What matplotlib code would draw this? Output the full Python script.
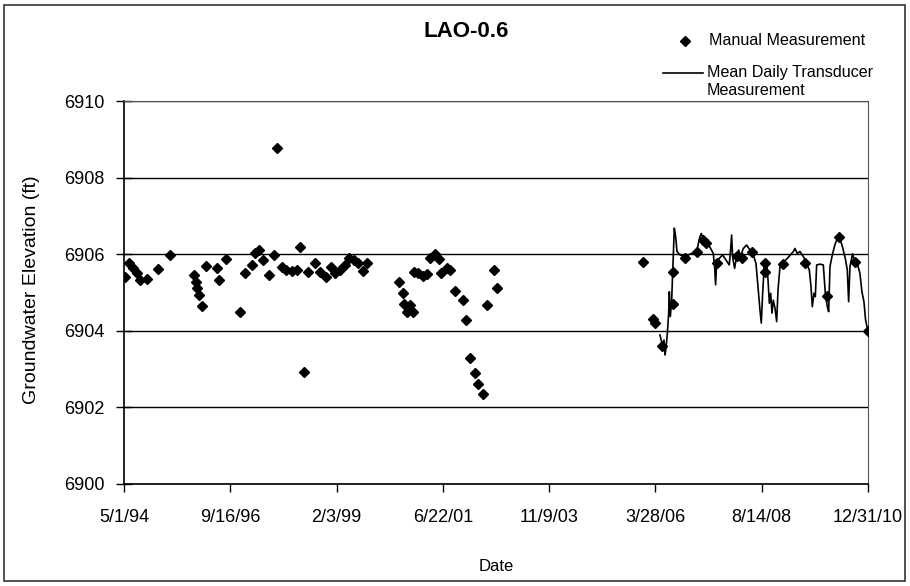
import matplotlib
matplotlib.use('Agg')
import matplotlib.pyplot as plt
from matplotlib.lines import Line2D
from matplotlib.patches import Rectangle
import pandas as pd

# manual measurements (date, groundwater elevation in ft)
manual_dates = [
    '1994-05-08', '1994-06-13', '1994-07-16', '1994-08-12', '1994-09-09', '1994-11-02',
    '1995-01-30', '1995-05-12', '1995-11-24', '1995-12-10', '1995-12-20', '1996-01-01',
    '1996-01-27', '1996-03-03', '1996-06-03', '1996-06-17', '1996-08-12', '1996-12-09',
    '1997-01-15', '1997-03-10', '1997-04-06', '1997-05-11', '1997-06-13', '1997-07-31',
    '1997-09-08', '1997-09-30', '1997-11-10', '1997-12-20', '1998-02-01', '1998-03-14',
    '1998-04-09', '1998-05-12', '1998-06-17', '1998-08-11', '1998-09-21', '1998-11-08',
    '1998-12-16', '1999-01-21', '1999-03-03', '1999-04-12', '1999-05-18', '1999-06-25',
    '1999-07-30', '1999-09-09', '1999-10-11',
    '2000-07-01', '2000-07-28', '2000-08-08', '2000-08-30', '2000-09-26', '2000-10-23',
    '2000-10-29', '2000-12-03', '2001-01-08', '2001-02-14', '2001-03-08', '2001-04-18',
    '2001-05-23', '2001-06-11', '2001-07-22', '2001-08-18', '2001-09-28', '2001-12-05',
    '2002-01-01', '2002-02-03', '2002-03-11', '2002-04-07', '2002-05-13', '2002-06-20',
    '2002-08-14', '2002-09-05',
    '2005-12-16', '2006-03-25', '2006-03-08', '2006-05-18', '2006-08-15', '2006-08-21',
    '2006-11-25', '2007-02-28', '2007-04-17', '2007-05-19', '2007-08-14', '2008-01-22',
    '2008-03-03', '2008-05-23', '2008-09-09', '2008-09-10', '2009-02-06', '2009-08-04',
    '2010-01-27', '2010-05-09', '2010-09-15', '2010-12-31',
]
manual_elev = [
    6905.40, 6905.78, 6905.63, 6905.50, 6905.33, 6905.35,
    6905.61, 6905.98, 6905.46, 6905.28, 6905.11, 6904.93,
    6904.65, 6905.69, 6905.63, 6905.33, 6905.87, 6904.50,
    6905.50, 6905.72, 6906.02, 6906.11, 6905.85, 6905.46,
    6905.98, 6908.78, 6905.67, 6905.59, 6905.57, 6905.59,
    6906.20, 6902.93, 6905.54, 6905.76, 6905.54, 6905.41,
    6905.67, 6905.50, 6905.59, 6905.72, 6905.89, 6905.85,
    6905.76, 6905.57, 6905.78,
    6905.28, 6904.98, 6904.70, 6904.50, 6904.67, 6904.50,
    6905.54, 6905.52, 6905.43, 6905.48, 6905.89, 6906.00,
    6905.87, 6905.50, 6905.63, 6905.59, 6905.05, 6904.80,
    6904.28, 6903.28, 6902.89, 6902.61, 6902.35, 6904.67,
    6905.59, 6905.11,
    6905.80, 6904.21, 6904.30, 6903.60, 6904.70, 6905.54,
    6905.89, 6906.07, 6906.37, 6906.30, 6905.78, 6905.95,
    6905.89, 6906.07, 6905.76, 6905.54, 6905.74, 6905.76,
    6904.91, 6906.46, 6905.80, 6904.00,
]

# mean daily transducer record (decimal year, elevation ft)
trans_year = [
    2006.337, 2006.397, 2006.427, 2006.449, 2006.472, 2006.502, 2006.532, 2006.547,
    2006.569, 2006.599, 2006.621, 2006.643, 2006.658, 2006.688, 2006.718, 2006.785,
    2006.875, 2006.972, 2007.084, 2007.174, 2007.233, 2007.263, 2007.323, 2007.398,
    2007.473, 2007.532, 2007.562, 2007.584, 2007.607, 2007.666, 2007.741, 2007.816,
    2007.890, 2007.920, 2007.943, 2007.965, 2008.010, 2008.055, 2008.100, 2008.145,
    2008.204, 2008.279, 2008.353, 2008.428, 2008.488, 2008.533, 2008.577, 2008.607,
    2008.637, 2008.674, 2008.727, 2008.757, 2008.787, 2008.817, 2008.846, 2008.876,
    2008.913, 2008.951, 2008.981, 2009.025, 2009.115, 2009.212, 2009.324, 2009.361,
    2009.414, 2009.473, 2009.548, 2009.623, 2009.682, 2009.720, 2009.750, 2009.787,
    2009.817, 2009.847, 2009.922, 2009.996, 2010.041, 2010.086, 2010.116, 2010.146,
    2010.205, 2010.265, 2010.340, 2010.415, 2010.489, 2010.534, 2010.564, 2010.594,
    2010.653, 2010.698, 2010.758, 2010.817, 2010.862, 2010.907, 2010.944, 2010.995,
]
trans_elev = [
    6903.89, 6903.59, 6903.76, 6903.37, 6903.54, 6903.93, 6904.46, 6905.02,
    6904.37, 6904.80, 6905.50, 6906.20, 6906.68, 6906.46, 6906.07, 6905.98,
    6905.94, 6905.98, 6906.04, 6906.15, 6906.46, 6906.54, 6906.37, 6906.30,
    6906.15, 6906.02, 6905.67, 6905.20, 6905.76, 6905.89, 6905.98, 6905.85,
    6905.72, 6906.11, 6906.50, 6905.94, 6905.63, 6905.94, 6906.11, 6905.94,
    6906.15, 6906.24, 6906.11, 6905.98, 6905.76, 6905.15, 6904.54, 6904.20,
    6904.98, 6905.72, 6905.76, 6905.33, 6904.72, 6904.98, 6904.46, 6904.80,
    6904.59, 6904.24, 6905.07, 6905.68, 6905.80, 6905.92, 6906.07, 6906.15,
    6906.02, 6906.07, 6905.94, 6905.76, 6905.59, 6905.15, 6904.63, 6904.98,
    6904.89, 6905.72, 6905.74, 6905.72, 6904.98, 6904.63, 6904.50, 6905.68,
    6906.02, 6906.28, 6906.48, 6906.24, 6905.89, 6905.59, 6904.76, 6905.68,
    6906.01, 6905.80, 6905.76, 6905.50, 6905.02, 6904.76, 6904.28, 6904.00,
]

tick_dates = ['1994-05-01', '1996-09-16', '1999-02-03', '2001-06-22',
              '2003-11-09', '2006-03-28', '2008-08-14', '2010-12-31']
tick_labels = ['5/1/94', '9/16/96', '2/3/99', '6/22/01',
               '11/9/03', '3/28/06', '8/14/08', '12/31/10']
y_ticks = [6900, 6902, 6904, 6906, 6908, 6910]


def dec_year_to_date(y):
    year = int(y)
    start = pd.Timestamp(year=year, month=1, day=1)
    end = pd.Timestamp(year=year + 1, month=1, day=1)
    return start + (end - start) * (y - year)


plt.rcParams['font.family'] = ['Liberation Sans', 'DejaVu Sans']

fig = plt.figure(figsize=(9.1, 5.86), dpi=100)
ax = fig.add_axes([0.1363, 0.1741, 0.8175, 0.6535])

m_dates = pd.to_datetime(manual_dates)
t_dates = [dec_year_to_date(v) for v in trans_year]

ax.plot(t_dates, trans_elev, color='black', lw=1.2, zorder=3)
ax.plot(m_dates, manual_elev, linestyle='none', marker='D', ms=5.6,
        color='black', zorder=4)

ax.set_xlim(pd.Timestamp(tick_dates[0]), pd.Timestamp(tick_dates[-1]))
ax.set_ylim(6900, 6910)
ax.set_yticks(y_ticks)
ax.set_xticks(pd.to_datetime(tick_dates))
ax.set_xticklabels(tick_labels)

ax.grid(axis='y', color='black', lw=1.0)
ax.set_axisbelow(True)
for s in ['top', 'right']:
    ax.spines[s].set_color('#555555')
    ax.spines[s].set_linewidth(0.8)
for s in ['left', 'bottom']:
    ax.spines[s].set_color('black')
    ax.spines[s].set_linewidth(1.2)

ax.tick_params(axis='y', direction='inout', length=12, width=1, labelsize=13, pad=8)
ax.tick_params(axis='x', direction='out', length=6, width=1, labelsize=13, pad=12)

fig.text(0.035, 0.505, 'Groundwater Elevation (ft)', rotation=90,
         ha='center', va='center', fontsize=14)
fig.text(0.545, 0.033, 'Date', ha='center', va='center', fontsize=12)
fig.text(0.512, 0.946, 'LAO-0.6', ha='center', va='center',
         fontsize=16, fontweight='bold')

# legend, laid out like the spreadsheet original
fig.add_artist(Line2D([0.7527], [0.9305], marker='D', ms=5.6, color='black',
                      linestyle='none', transform=fig.transFigure))
fig.text(0.7791, 0.9305, 'Manual Measurement', ha='left', va='center', fontsize=11.6)
fig.add_artist(Line2D([0.7286, 0.7725], [0.876, 0.876], color='black', lw=1.2,
                      transform=fig.transFigure))
fig.text(0.7769, 0.876, 'Mean Daily Transducer', ha='left', va='center', fontsize=11.6)
fig.text(0.7769, 0.846, 'Measurement', ha='left', va='center', fontsize=11.6)

fig.patches.append(Rectangle((0.0044, 0.0085), 0.990, 0.983,
                             transform=fig.transFigure, fill=False,
                             edgecolor='#333333', lw=1.2))

fig.savefig('out.png', dpi=100)
